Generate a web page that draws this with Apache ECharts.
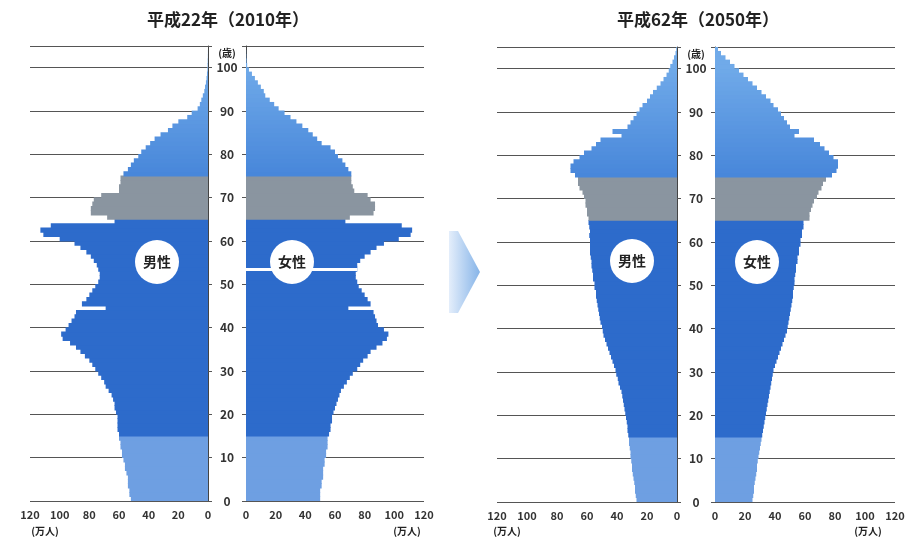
<!DOCTYPE html>
<html>
<head>
<meta charset="utf-8">
<script src="https://cdn.jsdelivr.net/npm/echarts@6/dist/echarts.min.js"></script>
<style>
  html, body { margin: 0; padding: 0; background: #fff; }
  #chart { width: 919px; height: 538px; }
</style>
</head>
<body>
<div id="chart"></div>
<script>
// 年齢 0〜104歳
var ages = [];
for (var a = 0; a < 105; a++) ages.push(String(a));

// 単位：万人
var male2010 = [
  52, 53, 53, 54, 54, 54, 55, 56, 56, 57,
  58, 58, 59, 59, 60, 60, 61, 61, 61, 61,
  62, 63, 63, 64, 65, 67, 69, 70, 72, 74,
  76, 78, 80, 83, 86, 89, 93, 98, 99, 96,
  94, 92, 90, 89, 69, 85, 82, 80, 78, 76,
  74, 73, 73, 74, 75, 77, 79, 82, 86, 90,
  100, 111, 113, 106, 63, 68, 79, 79, 78, 77,
  72, 60, 60, 59, 59, 57, 54, 52, 50, 47,
  45, 42, 39, 36, 32, 27, 24, 20, 14, 11,
  7, 5.5, 4.5, 3.5, 2.5, 2, 1.4, 1, 0.7, 0.4,
  0.3, 0.2, 0.1, 0.05, 0
];
var female2010 = [
  50, 50, 50, 51, 51, 52, 52, 52, 53, 53,
  54, 54, 55, 55, 55, 56, 57, 57, 58, 58,
  59, 60, 61, 62, 63, 64, 66, 68, 70, 72,
  75, 77, 79, 82, 84, 88, 92, 95, 96, 93,
  89, 88, 87, 86, 69, 84, 82, 80, 78, 76,
  75, 74, 74, 75, 75, 77, 80, 84, 88, 93,
  103, 111, 112, 105, 67, 70, 86, 87, 87, 84,
  82, 73, 72, 71, 71, 71, 69, 67, 65, 62,
  60, 57, 51, 48, 45, 42, 38, 34, 30, 26,
  22, 19, 16, 13, 12, 10, 8, 6, 4, 2,
  0.8, 0.4, 0.2, 0.1, 0
];
var male2050 = [
  27, 27.5, 28, 28, 28.5, 29, 29.5, 30, 30, 30.5,
  31, 31, 31.5, 32, 32, 32.5, 33, 33, 33.5, 34,
  34.5, 35, 35.5, 36, 36.5, 37, 38, 39, 39.5, 40.5,
  41, 42, 43, 44, 45, 46, 47, 48, 49, 49.5,
  50, 51, 51.5, 52, 52.5, 53, 53.5, 54, 54, 55,
  55, 56, 56, 56.5, 57, 57, 57.5, 58, 58, 58,
  58, 58.5, 58, 58.5, 59, 59, 60, 60, 61, 61,
  62, 63, 65, 66, 66, 68, 71, 71, 69, 65,
  62, 57, 54, 51, 37, 43, 33, 31, 29, 27,
  25, 23, 20, 18, 16, 13.5, 11, 9, 7, 5.5,
  4.5, 3, 2, 1, 0.5
];
var female2050 = [
  25, 25.5, 26, 26, 26.5, 27, 27.5, 28, 28, 28.5,
  29, 29.5, 30, 30.5, 31, 31.5, 32, 32.5, 33, 33.5,
  34, 34.5, 35, 35.5, 36, 36.5, 37, 37.5, 38, 38.5,
  39, 40, 41, 42, 43, 44, 45, 46, 47, 48,
  48.5, 49, 49.5, 50, 50.5, 51, 51.5, 52, 52, 52.5,
  53, 53, 53.5, 54, 54, 55, 55, 56, 56, 57,
  57, 58, 58, 59, 59, 63, 63, 64, 65, 66,
  68, 69, 71, 72, 74, 78, 81, 82, 82, 79,
  76, 73, 70, 66, 53, 56, 50, 48, 46, 44,
  42, 39, 37, 34, 31, 28, 25, 22, 19, 16,
  13, 10, 7, 4, 2
];
var xTicks = [0, 20, 40, 60, 80, 100, 120];
var titles = ['平成22年（2010年）', '平成62年（2050年）'];

var chart = echarts.init(document.getElementById('chart'));
var font = '"Noto Sans CJK JP", "Noto Sans", sans-serif';

// 年齢区分で色分け
function ageColor(age) {
  if (age < 15) return '#6e9fe2';
  if (age < 65) return '#2d6bcb';
  if (age < 75) return '#8a95a0';
  var t = Math.min((age - 75) / 25, 1);
  var r = Math.round(72 + t * 40), g = Math.round(135 + t * 35), b = Math.round(218 + t * 15);
  return 'rgb(' + r + ',' + g + ',' + b + ')';
}

var panels = [
  { data: male2010, left: 30, top: 46, width: 178, male: true },
  { data: female2010, left: 246, top: 46, width: 178, male: false },
  { data: male2050, left: 497, top: 47, width: 180, male: true },
  { data: female2050, left: 715, top: 47, width: 180, male: false }
];

var grid = [], xAxis = [], yAxis = [], series = [];
panels.forEach(function (p, i) {
  grid.push({ left: p.left, top: p.top, width: p.width, height: 455 });
  xAxis.push({
    type: 'value', gridIndex: i, min: 0, max: 120, interval: 20, inverse: p.male,
    axisLine: { show: false }, axisTick: { show: false }, splitLine: { show: false },
    axisLabel: { color: '#333', fontSize: 11, fontWeight: 'bold', fontFamily: font, margin: 8,
      formatter: function (v) { return xTicks.indexOf(v) >= 0 ? v : ''; } }
  });
  yAxis.push({ type: 'category', gridIndex: i, data: ages, show: false });
  yAxis.push({
    type: 'value', gridIndex: i, min: 0, max: 105, interval: 10,
    position: p.male ? 'right' : 'left',
    axisLine: { show: true, lineStyle: { color: '#444', width: 1 } },
    axisTick: { show: true, length: 4, lineStyle: { color: '#555' } },
    splitLine: { show: true, lineStyle: { color: '#555', width: 1 } },
    axisLabel: {
      show: p.male, align: 'center', margin: 19, fontSize: 12, fontWeight: 'bold',
      color: '#333', fontFamily: font,
      formatter: function (v) { return v > 100 ? '' : v; }
    }
  });
  series.push({
    type: 'bar', xAxisIndex: i, yAxisIndex: i * 2,
    barWidth: '118%',
    data: p.data.map(function (v, age) {
      return { value: v, itemStyle: { color: ageColor(age) } };
    })
  });
});

// 2010年女性の白い切れ目
series[1].markLine = {
  silent: true, symbol: 'none', label: { show: false },
  lineStyle: { color: '#fff', width: 3, type: 'solid' },
  data: [[{ coord: [0, '53'] }, { coord: [female2010[53], '53'] }]]
};

function txt(x, y, s, size) {
  return { type: 'text', x: x, y: y, z: 100,
    style: { text: s, fontSize: size, fontWeight: 'bold', fill: '#222', fontFamily: font,
      textAlign: 'center', textVerticalAlign: 'middle' } };
}
function badge(x, y, s) {
  return [
    { type: 'circle', z: 100, shape: { cx: x, cy: y, r: 22 }, style: { fill: '#fff' } },
    { type: 'text', z: 101, x: x, y: y,
      style: { text: s, fontSize: 14, fontWeight: 'bold', fill: '#222',
        fontFamily: font, textAlign: 'center', textVerticalAlign: 'middle' } }
  ];
}

var graphic = [
  txt(228, 20, titles[0], 17),
  txt(698, 20, titles[1], 17),
  txt(227, 53, '(歳)', 10),
  txt(696, 54, '(歳)', 10),
  txt(45, 531, '(万人)', 10),
  txt(407, 531, '(万人)', 10),
  txt(507, 531, '(万人)', 10),
  txt(868, 531, '(万人)', 10),
  { type: 'polygon', z: 100,
    shape: { points: [[449, 231], [458, 231], [480, 272], [458, 313], [449, 313]] },
    style: { fill: new echarts.graphic.LinearGradient(0, 0, 1, 0, [
      { offset: 0, color: '#e4eefb' }, { offset: 1, color: '#86b4e8' }]) } }
].concat(badge(157, 262, '男性'), badge(292, 262, '女性'),
         badge(632, 261, '男性'), badge(757, 262, '女性'));

chart.setOption({
  animation: false,
  grid: grid, xAxis: xAxis, yAxis: yAxis, series: series, graphic: graphic
});
</script>
</body>
</html>
